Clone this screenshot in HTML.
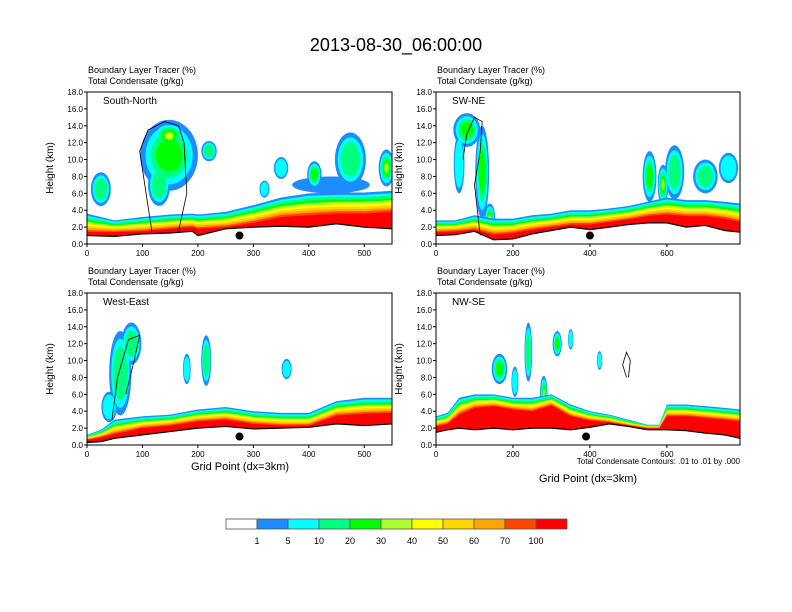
<!DOCTYPE html>
<html><head><meta charset="utf-8">
<style>
html,body{margin:0;padding:0;background:#fff;}
svg{display:block;font-family:"Liberation Sans",Helvetica,Arial,sans-serif;}
</style></head>
<body>
<svg id="c" width="792" height="612" viewBox="0 0 792 612" xmlns="http://www.w3.org/2000/svg">
<text x="396" y="51" text-anchor="middle" font-size="18">2013-08-30_06:00:00</text>
</svg>
<script>
// ----- data -----
const levelLabels = ["1","5","10","20","30","40","50","60","70","100"];
const levelColors = ["#ffffff","#1e8cff","#00ffff","#00ff80","#00ff00","#adff2f","#ffff00","#ffd700","#ffa500","#ff4500","#ff0000"];
const panelTitles = ["South-North","SW-NE","West-East","NW-SE"];
const yTicks = [0,2,4,6,8,10,12,14,16,18];
const xTicks1 = [0,100,200,300,400,500];
const xTicks2 = [0,200,400,600];

// panel 1 South-North
const p1x = [0,50,100,150,190,200,250,300,350,400,450,500,550];
const p1terrain = [1.0,0.9,1.2,1.3,1.5,1.0,1.8,2.0,2.1,2.0,2.4,2.0,1.8];
const p1core = [1.4,1.4,1.5,1.8,2.0,1.8,2.0,2.5,3.2,3.4,3.6,3.6,3.8];
const p1outer = [3.6,2.8,3.2,3.5,3.6,3.5,3.8,4.6,5.5,6.0,6.1,6.1,6.3];
const p1clouds = [[148,10.5,52,4.2,4],[148,12.8,30,1.6,6],[130,7,20,2.5,3],[25,6.5,18,2,3],[220,11,14,1.2,3],[350,9,13,1.3,2],[410,8.2,13,1.6,4],[475,10,28,3.2,3],[540,9,14,2.2,5],[440,7,70,1.0,1],[320,6.5,9,1,2]];
const p1contour = [[117,1.5],[95,11],[110,13.5],[140,14.5],[165,14],[175,12],[180,6],[170,3],[165,1.5]];
const p1dot = [275,1.0];

// panel 2 SW-NE
const p2x = [0,50,100,150,200,250,300,350,400,450,500,550,600,650,700,750,790];
const p2terrain = [1.0,1.1,1.5,0.5,0.6,1.2,1.6,2.0,1.7,2.0,2.3,2.5,2.5,2.0,2.2,1.6,1.4];
const p2core = [1.4,1.5,1.7,1.1,1.3,1.7,2.0,2.3,2.3,2.6,2.9,3.3,3.5,3.3,3.3,3.0,2.6];
const p2outer = [2.8,2.8,3.4,3.0,3.0,3.4,3.6,4.0,4.0,4.2,4.5,5.0,5.5,5.2,5.2,5.0,4.8];
const p2clouds = [[80,13.5,35,2,4],[120,8.5,18,5.5,4],[60,9.5,14,3.5,2],[555,8,18,3,4],[620,8.5,25,3.2,3],[700,8,32,2,3],[760,9,25,1.8,2],[140,3,14,1.8,5],[590,7,14,2.4,5]];
const p2contour = [[70,10],[80,13],[100,15],[120,14.5],[115,11],[100,7],[110,3],[115,1]];
const p2dot = [400,1.0];

// panel 3 West-East
const p3x = [0,25,50,100,150,200,250,300,350,400,450,500,550];
const p3terrain = [0.3,0.4,0.8,1.2,1.6,2.0,2.2,1.9,2.0,2.1,2.5,2.3,2.5];
const p3core = [0.6,0.9,1.3,2.0,2.3,2.8,3.0,2.5,2.3,2.3,3.5,3.7,3.8];
const p3outer = [1.2,1.8,3.0,3.4,3.6,4.2,4.5,4.0,3.8,3.8,5.2,5.6,5.6];
const p3clouds = [[60,8.5,20,5,3],[80,12,18,2.5,3],[215,10,9,3,3],[180,9,7,1.8,2],[360,9,9,1.2,2],[40,4.5,14,1.8,2]];
const p3contour = [[45,3],[55,8],[75,12.5],[95,13],[85,10],[70,6]];
const p3dot = [275,1.0];

// panel 4 NW-SE
const p4x = [0,30,60,100,150,200,250,300,350,400,450,500,550,580,600,650,700,750,790];
const p4terrain = [1.5,1.8,2.0,1.8,2.0,1.8,2.0,2.0,1.8,2.1,2.5,2.2,1.8,1.8,1.8,1.7,1.4,1.2,0.8];
const p4core = [2.2,2.5,3.6,4.4,4.6,4.2,4.0,4.7,3.4,2.9,2.7,2.3,2.0,2.0,3.4,3.4,3.2,3.0,2.8];
const p4outer = [3.4,3.8,5.6,6.0,6.0,5.6,5.6,6.0,4.8,4.0,3.6,3.0,2.4,2.4,4.8,4.8,4.6,4.4,4.2];
const p4clouds = [[165,9,20,1.8,4],[240,11,10,3.5,3],[315,12,12,1.5,4],[350,12.5,7,1.2,2],[425,10,7,1.1,2],[280,6,10,2.2,6],[205,7.5,9,1.8,2]];
const p4contour = [[495,8],[485,9.5],[495,11],[505,10],[500,8]];
const p4dot = [390,1.0];

const panels = [
 {x0:87,x1:392,y0:92,y1:244,xmax:550,xs:p1x,t:p1terrain,c:p1core,o:p1outer,cl:p1clouds,ct:p1contour,dot:p1dot,ticks:xTicks1,title:panelTitles[0]},
 {x0:436,x1:740,y0:92,y1:244,xmax:790,xs:p2x,t:p2terrain,c:p2core,o:p2outer,cl:p2clouds,ct:p2contour,dot:p2dot,ticks:xTicks2,title:panelTitles[1]},
 {x0:87,x1:392,y0:293,y1:445,xmax:550,xs:p3x,t:p3terrain,c:p3core,o:p3outer,cl:p3clouds,ct:p3contour,dot:p3dot,ticks:xTicks1,title:panelTitles[2]},
 {x0:436,x1:740,y0:293,y1:445,xmax:790,xs:p4x,t:p4terrain,c:p4core,o:p4outer,cl:p4clouds,ct:p4contour,dot:p4dot,ticks:xTicks2,title:panelTitles[3]}
];

const NS="http://www.w3.org/2000/svg";
const svg=document.getElementById('c');
function mk(tag,attrs,parent){const e=document.createElementNS(NS,tag);for(const k in attrs)e.setAttribute(k,attrs[k]);(parent||svg).appendChild(e);return e;}

panels.forEach((p,pi)=>{
  const g=mk('g',{});
  
  
  const sx=v=>p.x0+(v/p.xmax)*(p.x1-p.x0);
  const sy=v=>p.y1-(v/18)*(p.y1-p.y0);
  const clipId='clip'+pi;
  const cp=mk('clipPath',{id:clipId},g);
  mk('rect',{x:p.x0,y:p.y0,width:p.x1-p.x0,height:p.y1-p.y0},cp);
  const pg=mk('g',{'clip-path':'url(#'+clipId+')'},g);
  // clouds, drawn level by level so inner levels overlay outer ones
  const maxL=Math.max(...p.cl.map(c=>c[4]));
  for(let k=1;k<=maxL;k++){
    p.cl.forEach((c,ci)=>{
      if(k>c[4]) return;
      const f=Math.max(0.15,1-(k-1)*0.18);
      const e=mk('ellipse',{cx:sx(c[0]),cy:sy(c[1]),rx:Math.abs(sx(c[2])-sx(0))*f,ry:Math.abs(sy(0)-sy(c[3]))*f,fill:levelColors[k]},pg);
      
      
    });
  }
  // boundary layer bands
  for(let k=1;k<=10;k++){
    let pts=[];
    p.xs.forEach((xv,i)=>{
      const top = k===10 ? p.c[i] : p.o[i]-(k-1)/9*(p.o[i]-p.c[i]);
      pts.push(sx(xv)+','+sy(top));
    });
    for(let i=p.xs.length-1;i>=0;i--) pts.push(sx(p.xs[i])+','+sy(p.t[i]));
    const poly=mk('polygon',{points:pts.join(' '),fill:levelColors[k]},pg);
    
    
  }
  const cl=mk('polyline',{points:p.ct.map(q=>sx(q[0])+','+sy(q[1])).join(' '),fill:'none',stroke:'#000','stroke-width':0.8},pg);
  
  
  const tl=mk('polyline',{points:p.xs.map((xv,i)=>sx(xv)+','+sy(p.t[i])).join(' '),fill:'none',stroke:'#000','stroke-width':1.2},pg);
  
  
  const d=mk('circle',{cx:sx(p.dot[0]),cy:sy(p.dot[1]),r:4,fill:'#000'},g);
  
  
  const fr=mk('rect',{x:p.x0,y:p.y0,width:p.x1-p.x0,height:p.y1-p.y0,fill:'none',stroke:'#000','stroke-width':1},g);
  
  
  yTicks.forEach(v=>{
    mk('line',{x1:p.x0,x2:p.x0-3,y1:sy(v),y2:sy(v),stroke:'#000'},g);
    const t=mk('text',{x:p.x0-4,y:sy(v)+3,'text-anchor':'end','font-size':8},g);
    t.textContent=v.toFixed(1);
    
    
  });
  p.ticks.forEach(v=>{
    mk('line',{x1:sx(v),x2:sx(v),y1:p.y1,y2:p.y1+3,stroke:'#000'},g);
    const t=mk('text',{x:sx(v),y:p.y1+12,'text-anchor':'middle','font-size':8},g);
    t.textContent=String(v);
    
    
  });
  const yl=mk('text',{x:0,y:0,'text-anchor':'middle','font-size':10,transform:'translate('+(p.x0-34)+','+((p.y0+p.y1)/2)+') rotate(-90)'},g);
  yl.textContent='Height (km)';
  
  
  const pt=mk('text',{x:p.x0+16,y:p.y0+12,'font-size':10},g);
  pt.textContent=p.title;
  
  
  const s1=mk('text',{x:p.x0+1,y:p.y0-19,'font-size':9},g);
  s1.textContent='Boundary Layer Tracer   (%)';
  
  
  const s2=mk('text',{x:p.x0+1,y:p.y0-8,'font-size':9},g);
  s2.textContent='Total Condensate   (g/kg)';
  
  
});

let xa=mk('text',{x:240,y:470,'text-anchor':'middle','font-size':11});
xa.textContent='Grid Point (dx=3km)';


xa=mk('text',{x:588,y:482,'text-anchor':'middle','font-size':11});
xa.textContent='Grid Point (dx=3km)';


const note=mk('text',{x:740,y:464,'text-anchor':'end','font-size':8});
note.textContent='Total Condensate Contours: .01 to .01 by .000';



const lg=mk('g',{});


const bx0=226,bw=31,by=519,bh=10;
levelColors.forEach((col,i)=>{
  const r=mk('rect',{x:bx0+i*bw,y:by,width:bw,height:bh,fill:col,stroke:'#555','stroke-width':0.8},lg);
  
  
});
levelLabels.forEach((l,i)=>{
  const t=mk('text',{x:bx0+(i+1)*bw,y:by+25,'text-anchor':'middle','font-size':9},lg);
  t.textContent=l;
  
  
});
</script>
</body></html>
